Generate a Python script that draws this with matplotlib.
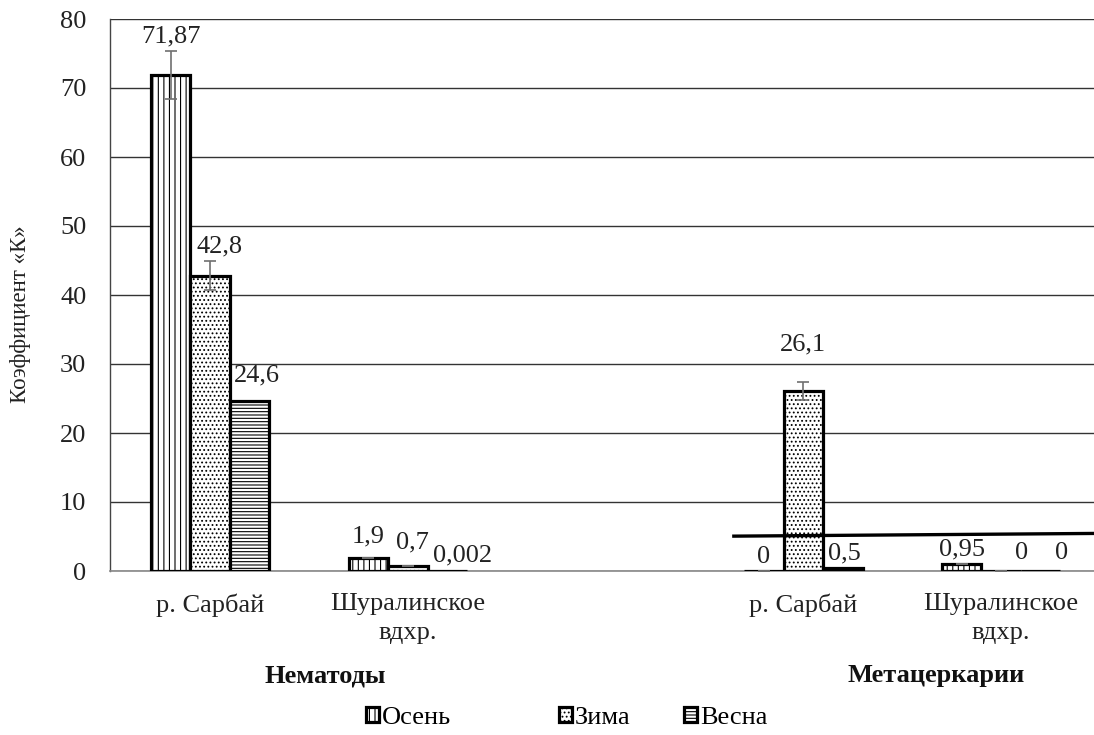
import numpy as np
import matplotlib.pyplot as plt

plt.rcParams['font.family'] = ['Liberation Serif', 'DejaVu Serif']
plt.rcParams['hatch.linewidth'] = 0.8

# Data
categories = ['р. Сарбай', 'Шуралинское\nвдхр.', 'р. Сарбай', 'Шуралинское\nвдхр.']
groups = ['Нематоды', 'Метацеркарии']
seasons = ['Осень', 'Зима', 'Весна']
osen = [71.87, 1.9, 0, 0.95]
zima = [42.8, 0.7, 26.1, 0]
vesna = [24.6, 0.002, 0.5, 0]
osen_err = [3.5, 0, 0, 0]
zima_err = [2.1, 0, 1.3, 0]
osen_lbl = ['71,87', '1,9', '0', '0,95']
zima_lbl = ['42,8', '0,7', '26,1', '0']
vesna_lbl = ['24,6', '0,002', '0,5', '0']

# label offsets in pixels (dx, dy) relative to bar top centre
osen_off = [(0, 39), (0, 21), (0, 14), (0, 15)]
zima_off = [(9, 29), (5, 24), (0, 46), (20, 18)]
vesna_off = [(7, 26), (15, 16), (1, 14), (21, 18)]

x = np.array([0, 1, 3, 4])
w = 0.2
fs = 19

fig = plt.figure(figsize=(10.94, 7.35), dpi=100)
ax = fig.add_axes([110 / 1094, 164 / 735, 990 / 1094, 552 / 735])

styles = [('|||', osen, osen_err, osen_lbl, osen_off),
          ('....', zima, zima_err, zima_lbl, zima_off),
          ('-----', vesna, None, vesna_lbl, vesna_off)]

handles = []
for i, (hatch, vals, err, lbls, offs) in enumerate(styles):
    pos = x + (i - 1) * w
    b = ax.bar(pos, vals, w, color='white', edgecolor='black', linewidth=2.3,
               hatch=hatch, label=seasons[i], zorder=3)
    handles.append(b)
    if err is not None:
        ax.errorbar(pos, vals, yerr=err, fmt='none', ecolor='#707070',
                    elinewidth=1.2, capsize=4.5, capthick=1.2, zorder=4)
    for px, v, t, (dx, dy) in zip(pos, vals, lbls, offs):
        ax.annotate(t, (px, v), xytext=(dx, dy), textcoords='offset pixels',
                    ha='center', va='center', fontsize=fs, color='#222222', zorder=5)

# thick line across the right part
ax.plot([2.64, 4.5], [5.05, 5.45], color='black', linewidth=2.4, zorder=6,
        solid_capstyle='butt')

ax.set_xlim(-0.506, 4.5)
ax.set_ylim(0, 80)
ax.set_yticks(np.arange(0, 81, 10))
ax.yaxis.grid(True, color='#333333', linewidth=1.0, zorder=0)
ax.set_axisbelow(True)
ax.tick_params(axis='y', length=0, pad=17, labelsize=fs, labelcolor='#222222')
ax.set_xticks(x)
ax.set_xticklabels(categories, fontsize=fs, color='#222222', linespacing=1.4)
ax.tick_params(axis='x', length=0, pad=16)

ax.spines['top'].set_visible(False)
ax.spines['right'].set_visible(False)
ax.spines['left'].set_color('#444444')
ax.spines['left'].set_linewidth(1.0)
ax.spines['bottom'].set_color('#888888')
ax.spines['bottom'].set_linewidth(1.2)

ax.set_ylabel('Коэффициент «К»', fontsize=16.5, color='#222222')
ax.yaxis.set_label_coords(-0.08, 0.465)

# group labels
grp_x = [0.58, 3.67]
for gx, g in zip(grp_x, groups):
    ax.text(gx, -0.19, g, transform=ax.get_xaxis_transform(), ha='center',
            va='center', fontsize=fs, fontweight='bold', color='#111111')

# legend entries, placed one by one like the original
leg_x = [366, 559, 684]
for lx, h in zip(leg_x, handles):
    fig.legend(handles=[h], loc='center left', bbox_to_anchor=(lx / 1094, 1 - 718 / 735),
               frameon=False, fontsize=fs, handlelength=0.5, handleheight=0.5,
               handletextpad=0.1, borderpad=0, borderaxespad=0)

fig.savefig('out.png', dpi=100)
